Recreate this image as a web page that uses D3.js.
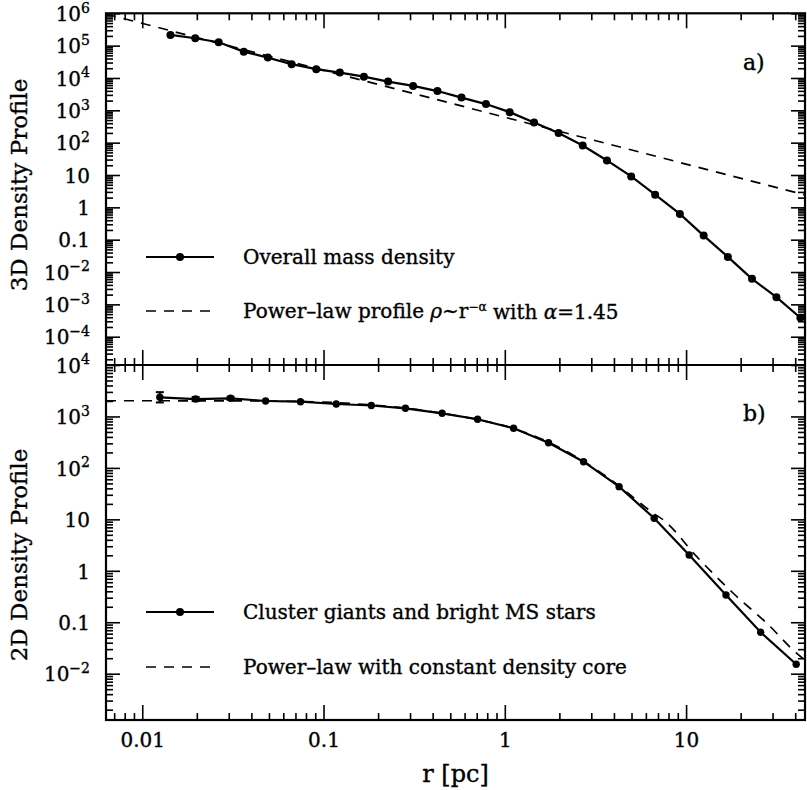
<!DOCTYPE html>
<html>
<head>
<meta charset="utf-8">
<script src="https://cdn.jsdelivr.net/npm/d3@7/dist/d3.min.js"></script>
<style>
  body { margin: 0; background: #fff; }
  svg text { font-family: "DejaVu Serif", serif; fill: #000; stroke: #000; stroke-width: 0.35px; }
</style>
</head>
<body>
<div id="chart"></div>
<script>
// ---- data ----
// panel a) overall 3D mass density
var rTop = [0.0143, 0.0196, 0.0264, 0.0363, 0.0493, 0.0667, 0.0912, 0.123, 0.167, 0.227,
            0.312, 0.425, 0.577, 0.787, 1.064, 1.45, 1.98, 2.69, 3.66, 4.98,
            6.75, 9.24, 12.5, 17.0, 23.1, 31.5, 42.7];
var rhoTop = [2.14e5, 1.69e5, 1.27e5, 6.53e4, 4.27e4, 2.67e4, 1.87e4, 1.47e4, 1.10e4, 7740,
              5700, 3940, 2480, 1560, 879, 420, 198, 82, 28.2, 9.06,
              2.47, 0.625, 0.134, 0.0294, 0.00617, 0.00167, 0.000385];
// power-law rho ~ r^-1.45 (end points as drawn)
var rPow = [0.00631, 45.3];
var rhoPow = [9.5e5, 2.43];

// panel b) 2D density of giants and bright MS stars
var rBot = [0.0125, 0.0197, 0.0307, 0.0479, 0.0746, 0.1175, 0.1836, 0.283, 0.451, 0.708,
            1.118, 1.742, 2.72, 4.27, 6.67, 10.4, 16.6, 25.8, 40.5];
var sigBot = [2355, 2180, 2255, 1995, 1936, 1746, 1633, 1439, 1151, 881,
              589, 309, 132, 43.2, 10.5, 2.03, 0.339, 0.0638, 0.01524];
var errBot = [0.1, 0.04, 0.03, 0, 0, 0, 0, 0, 0, 0, 0, 0, 0, 0, 0, 0, 0, 0, 0]; // dex
// power-law with constant density core
var rCore = [0.00631, 0.02, 0.05, 0.1, 0.18, 0.3, 0.45, 0.7, 1.1, 1.75,
             2.7, 4.27, 4.92, 6.67, 7.5, 11.46, 18.2, 27.9, 40.8, 45.3];
var sigCore = [2020, 2015, 1990, 1900, 1680, 1420, 1150, 880, 595, 315,
               136, 44.5, 29.7, 12.8, 9.7, 1.88, 0.366, 0.0955, 0.0249, 0.01845];

// tick labels
var xTicks = [0.01, 0.1, 1, 10];
var xTickLabels = ["0.01", "0.1", "1", "10"];
var yTopTicks = [1e6, 1e5, 1e4, 1e3, 1e2, 10, 1, 0.1, 1e-2, 1e-3, 1e-4];
var yTopLabels = [["10", "6"], ["10", "5"], ["10", "4"], ["10", "3"], ["10", "2"], ["10", ""],
                  ["1", ""], ["0.1", ""], ["10", "\u22122"], ["10", "\u22123"], ["10", "\u22124"]];
var yBotTicks = [1e4, 1e3, 1e2, 10, 1, 0.1, 1e-2];
var yBotLabels = [["10", "4"], ["10", "3"], ["10", "2"], ["10", ""], ["1", ""], ["0.1", ""], ["10", "\u22122"]];

var legendTop = ["Overall mass density"];
var legendBot = ["Cluster giants and bright MS stars", "Power\u2013law with constant density core"];

// ---- layout ----
var W = 807, H = 790;
var L = 106, R = 805, T = 13.3, M = 365, B = 720;

var svg = d3.select("#chart").append("svg")
    .attr("width", W)
    .attr("height", H);

var x = d3.scaleLog().domain([Math.pow(10, -2.2), Math.pow(10, 1.656)]).range([L, R]);
var yTop = d3.scaleLog().domain([Math.pow(10, -4.875), 1e6]).range([M, T]);
var yBot = d3.scaleLog().domain([Math.pow(10, -2.9), 1e4]).range([B, M]);

function minors(lo, hi) {
    var out = [];
    for (var e = Math.floor(Math.log10(lo)); e <= Math.ceil(Math.log10(hi)); e++) {
        for (var k = 2; k <= 9; k++) {
            var v = k * Math.pow(10, e);
            if (v >= lo && v <= hi) out.push(v);
        }
    }
    return out;
}
var xMinor = minors(x.domain()[0], x.domain()[1]);
var yTopMinor = minors(yTop.domain()[0], yTop.domain()[1]);
var yBotMinor = minors(yBot.domain()[0], yBot.domain()[1]);

function styleAxis(g) {
    g.select(".domain").remove();
    g.selectAll(".tick line").attr("stroke", "#000").attr("stroke-width", 1.6);
    g.selectAll(".tick text").attr("font-family", "DejaVu Serif").attr("font-size", 20).attr("fill", "#000");
}
function noLabel() { return ""; }

// ---- x axes ----
// top border, ticks pointing down
svg.append("g").attr("transform", "translate(0," + T + ")")
    .call(d3.axisBottom(x).tickValues(xTicks).tickSize(15).tickFormat(noLabel)).call(styleAxis);
svg.append("g").attr("transform", "translate(0," + T + ")")
    .call(d3.axisBottom(x).tickValues(xMinor).tickSize(7).tickFormat(noLabel)).call(styleAxis);
// middle line, ticks both ways
svg.append("g").attr("transform", "translate(0," + M + ")")
    .call(d3.axisTop(x).tickValues(xTicks).tickSize(15).tickFormat(noLabel)).call(styleAxis);
svg.append("g").attr("transform", "translate(0," + M + ")")
    .call(d3.axisTop(x).tickValues(xMinor).tickSize(7).tickFormat(noLabel)).call(styleAxis);
svg.append("g").attr("transform", "translate(0," + M + ")")
    .call(d3.axisBottom(x).tickValues(xTicks).tickSize(15).tickFormat(noLabel)).call(styleAxis);
svg.append("g").attr("transform", "translate(0," + M + ")")
    .call(d3.axisBottom(x).tickValues(xMinor).tickSize(7).tickFormat(noLabel)).call(styleAxis);
// bottom border, ticks up, labels below
svg.append("g").attr("transform", "translate(0," + B + ")")
    .call(d3.axisBottom(x).tickValues(xTicks).tickSizeInner(-15).tickSizeOuter(0).tickPadding(13)
        .tickFormat(function (d, i) { return xTickLabels[i]; }))
    .call(styleAxis);
svg.append("g").attr("transform", "translate(0," + B + ")")
    .call(d3.axisBottom(x).tickValues(xMinor).tickSizeInner(-7).tickSizeOuter(0).tickFormat(noLabel)).call(styleAxis);

// ---- y axes ----
function yAxes(scale, ticks, labels, minorTicks) {
    var left = svg.append("g").attr("transform", "translate(" + L + ",0)")
        .call(d3.axisLeft(scale).tickValues(ticks).tickSizeInner(-14).tickSizeOuter(0).tickPadding(16)
            .tickFormat(function (d, i) { return labels[i][0]; }))
        .call(styleAxis);
    left.selectAll(".tick text").each(function (d, i) {
        var lab = labels[i];
        var t = d3.select(this).text(null).attr("dy", "0.36em");
        t.append("tspan").text(lab[0]);
        if (lab[1]) {
            t.append("tspan").attr("font-size", 14).attr("dy", "-0.6em").text(lab[1]);
        }
    });
    svg.append("g").attr("transform", "translate(" + L + ",0)")
        .call(d3.axisLeft(scale).tickValues(minorTicks).tickSizeInner(-7).tickSizeOuter(0).tickFormat(noLabel))
        .call(styleAxis);
    svg.append("g").attr("transform", "translate(" + R + ",0)")
        .call(d3.axisLeft(scale).tickValues(ticks).tickSize(14).tickFormat(noLabel)).call(styleAxis);
    svg.append("g").attr("transform", "translate(" + R + ",0)")
        .call(d3.axisLeft(scale).tickValues(minorTicks).tickSize(7).tickFormat(noLabel)).call(styleAxis);
}
yAxes(yTop, yTopTicks, yTopLabels, yTopMinor);
yAxes(yBot, yBotTicks, yBotLabels, yBotMinor);

// ---- frames and clips ----
var defs = svg.append("defs");
defs.append("clipPath").attr("id", "clipTop").append("rect")
    .attr("x", L).attr("y", T).attr("width", R - L).attr("height", M - T);
defs.append("clipPath").attr("id", "clipBot").append("rect")
    .attr("x", L).attr("y", M).attr("width", R - L).attr("height", B - M);

svg.append("rect").attr("x", L).attr("y", T).attr("width", R - L).attr("height", B - T)
    .attr("fill", "none").attr("stroke", "#000").attr("stroke-width", 2.2);
svg.append("line").attr("x1", L).attr("x2", R).attr("y1", M).attr("y2", M)
    .attr("stroke", "#000").attr("stroke-width", 2.2);

// ---- panel a ----
var topG = svg.append("g").attr("clip-path", "url(#clipTop)");
var lineTop = d3.line().x(function (d) { return x(d[0]); }).y(function (d) { return yTop(d[1]); });

topG.append("path")
    .datum(d3.zip(rPow, rhoPow))
    .attr("d", lineTop)
    .attr("fill", "none").attr("stroke", "#000").attr("stroke-width", 1.7)
    .attr("stroke-dasharray", "10,8");

topG.append("path")
    .datum(d3.zip(rTop, rhoTop))
    .attr("d", lineTop)
    .attr("fill", "none").attr("stroke", "#000").attr("stroke-width", 2.2);

topG.selectAll("circle")
    .data(d3.zip(rTop, rhoTop))
    .enter().append("circle")
    .attr("cx", function (d) { return x(d[0]); })
    .attr("cy", function (d) { return yTop(d[1]); })
    .attr("r", 4)
    .attr("fill", "#000");

// ---- panel b ----
var botG = svg.append("g").attr("clip-path", "url(#clipBot)");
var lineBot = d3.line().x(function (d) { return x(d[0]); }).y(function (d) { return yBot(d[1]); });

botG.append("path")
    .datum(d3.zip(rCore, sigCore))
    .attr("d", lineBot.curve(d3.curveMonotoneX))
    .attr("fill", "none").attr("stroke", "#000").attr("stroke-width", 1.7)
    .attr("stroke-dasharray", "10,8");

botG.append("path")
    .datum(d3.zip(rBot, sigBot))
    .attr("d", lineBot.curve(d3.curveLinear))
    .attr("fill", "none").attr("stroke", "#000").attr("stroke-width", 2.2);

var errG = botG.selectAll(".err")
    .data(d3.zip(rBot, sigBot, errBot).filter(function (d) { return d[2] > 0; }))
    .enter().append("g").attr("class", "err");
errG.append("line")
    .attr("x1", function (d) { return x(d[0]); }).attr("x2", function (d) { return x(d[0]); })
    .attr("y1", function (d) { return yBot(d[1] * Math.pow(10, d[2])); })
    .attr("y2", function (d) { return yBot(d[1] / Math.pow(10, d[2])); })
    .attr("stroke", "#000").attr("stroke-width", 2);
[1, -1].forEach(function (s) {
    errG.append("line")
        .attr("x1", function (d) { return x(d[0]) - 4; }).attr("x2", function (d) { return x(d[0]) + 4; })
        .attr("y1", function (d) { return yBot(d[1] * Math.pow(10, s * d[2])); })
        .attr("y2", function (d) { return yBot(d[1] * Math.pow(10, s * d[2])); })
        .attr("stroke", "#000").attr("stroke-width", 2);
});

botG.selectAll("circle")
    .data(d3.zip(rBot, sigBot))
    .enter().append("circle")
    .attr("cx", function (d) { return x(d[0]); })
    .attr("cy", function (d) { return yBot(d[1]); })
    .attr("r", 3.7)
    .attr("fill", "#000");

// ---- legends ----
function legendSolid(y) {
    svg.append("line").attr("x1", 146).attr("x2", 214).attr("y1", y).attr("y2", y)
        .attr("stroke", "#000").attr("stroke-width", 2.2);
    svg.append("circle").attr("cx", 180).attr("cy", y).attr("r", 4).attr("fill", "#000");
}
function legendDash(y) {
    svg.append("line").attr("x1", 146).attr("x2", 214).attr("y1", y).attr("y2", y)
        .attr("stroke", "#000").attr("stroke-width", 1.7).attr("stroke-dasharray", "10,8");
}
var legendFont = 20;

legendSolid(257);
svg.append("text").attr("x", 243).attr("y", 257).attr("dy", "0.36em")
    .attr("font-size", legendFont).text(legendTop[0]);

legendDash(311);
var pl = svg.append("text").attr("x", 243).attr("y", 311).attr("dy", "0.36em")
    .attr("font-size", legendFont);
pl.append("tspan").text("Power\u2013law profile ");
pl.append("tspan").attr("font-style", "italic").text("\u03c1");
pl.append("tspan").text("~r");
pl.append("tspan").attr("font-size", 12).attr("dy", "-0.6em").text("\u2212\u03b1");
pl.append("tspan").attr("dy", "0.42em").text(" with ");
pl.append("tspan").attr("font-style", "italic").text("\u03b1");
pl.append("tspan").text("=1.45");

legendSolid(612);
svg.append("text").attr("x", 243).attr("y", 612).attr("dy", "0.36em")
    .attr("font-size", legendFont).text(legendBot[0]);
legendDash(667);
svg.append("text").attr("x", 243).attr("y", 667).attr("dy", "0.36em")
    .attr("font-size", legendFont).text(legendBot[1]);

// panel labels
svg.append("text").attr("x", 743).attr("y", 62).attr("dy", "0.36em").attr("font-size", 22).text("a)");
svg.append("text").attr("x", 743).attr("y", 413).attr("dy", "0.36em").attr("font-size", 22).text("b)");

// axis titles
svg.append("text").attr("transform", "translate(19,185) rotate(-90)")
    .attr("text-anchor", "middle").attr("dy", "0.36em").attr("font-size", 23).text("3D Density Profile");
svg.append("text").attr("transform", "translate(19,555) rotate(-90)")
    .attr("text-anchor", "middle").attr("dy", "0.36em").attr("font-size", 23).text("2D Density Profile");
svg.append("text").attr("x", (L + R) / 2).attr("y", 773).attr("dy", "0.36em")
    .attr("text-anchor", "middle").attr("font-size", 24).text("r [pc]");
</script>
</body>
</html>
